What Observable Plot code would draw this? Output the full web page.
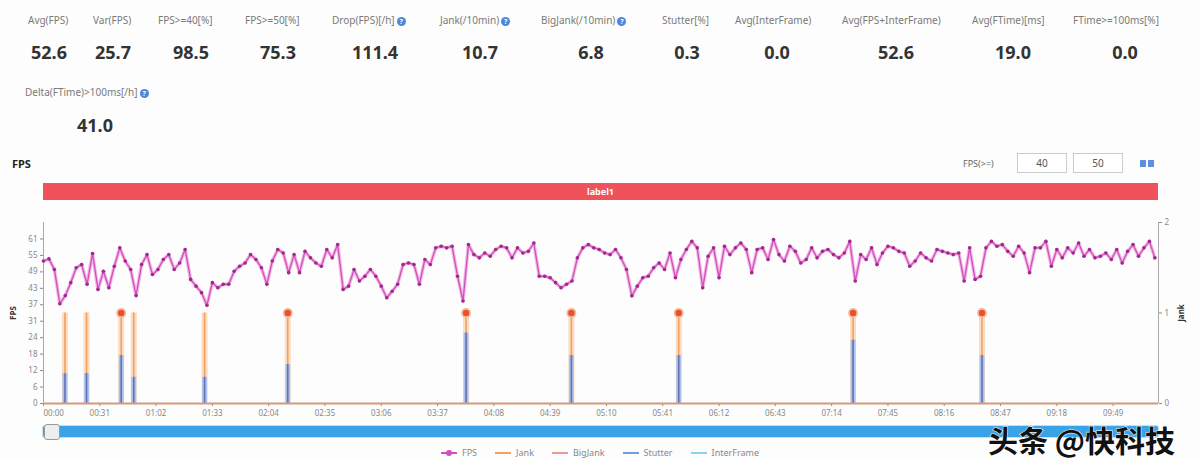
<!DOCTYPE html>
<html><head><meta charset="utf-8">
<script src="https://cdn.jsdelivr.net/npm/d3@7"></script>
<script src="https://cdn.jsdelivr.net/npm/@observablehq/plot@0.6"></script>
<style>
body{margin:0;background:#fff;font-family:"Noto Sans","Liberation Sans",Arial,sans-serif;}
#root{position:relative;width:1200px;height:460px;overflow:hidden;background:#fdfdfd;}
.abs{position:absolute;white-space:nowrap;}
.mlabel{font-size:10px;line-height:12px;color:#7a7a7a;}
.mval{font-size:18px;line-height:22px;font-weight:bold;color:#333;transform:translateX(-50%);}
.help{display:inline-block;width:9px;height:9px;border-radius:50%;background:#4f86d6;color:#fff;font-size:7px;line-height:9px;text-align:center;margin-left:2px;vertical-align:0px;font-weight:bold;}
.box{position:absolute;border:1px solid #ccc;background:#fff;font-size:10px;color:#555;text-align:center;line-height:18px;height:18px;}
#legend{position:absolute;top:446px;left:0;width:1200px;display:flex;justify-content:center;gap:18px;font-size:9px;color:#888;}
.li{display:flex;align-items:center;gap:5px;}
</style></head>
<body><div id="root"></div>
<script>
// ---------- data ----------
const metricLabels = ["Avg(FPS)","Var(FPS)","FPS>=40[%]","FPS>=50[%]","Drop(FPS)[/h]","Jank(/10min)","BigJank(/10min)","Stutter[%]","Avg(InterFrame)","Avg(FPS+InterFrame)","Avg(FTime)[ms]","FTime>=100ms[%]","Delta(FTime)>100ms[/h]"];
const metricValues = ["52.6","25.7","98.5","75.3","111.4","10.7","6.8","0.3","0.0","52.6","19.0","0.0","41.0"];
const metricHelp   = [false,false,false,false,true,true,true,false,false,false,false,false,true];

const fpsStepSeconds = 3;
const fps = [
 52.8,53.6,49.7,37,40,44.8,50.3,51.5,44.2,55.6,
 42.3,49,42.9,50.9,57.7,52.8,49.7,40,51.5,55.2,
 47.8,49.7,53.4,55.2,49.7,52.1,57.1,46,43.5,41.1,
 36.4,44.8,42.9,44.2,44.2,49,50.9,52.1,55.2,53.4,
 50.3,44.2,52.8,57.1,55.8,48.5,55.2,48.5,56.4,54,
 52.1,50.9,57.1,54,58.9,42.3,43.5,49.7,45.4,47.2,
 49.7,47.2,43.5,39.2,41.6,44.2,
 51.5,52.1,51.5,44.2,53.4,51.5,57.7,58.3,57.7,58.3,
 47.2,38,58.9,55.2,54,55.8,54.6,57.1,58.3,57.7,
 54,57.7,55.8,56.4,59.5,47.2,47.2,46.6,44.8,42.9,
 44.2,45.4,54,57.7,58.9,57.7,57.1,55.8,55.2,57.1,
 54,49.7,39.9,43.5,46.6,47.2,50.3,52.1,49.7,55.8,
 46.6,53.4,57.1,60.1,57.7,42.9,54.6,57.7,46.6,58.3,
 55.2,57.7,59.5,57.1,48.5,57.1,57.7,53.4,60.8,55.2,
 52.8,58.3,56.4,
 52.1,53.4,57.7,54,56.4,57.1,55.2,54,55.8,60.1,
 45.4,55.2,53.4,57.7,51.5,55.8,58.3,57.7,56.4,55.8,
 50.9,52.8,55.8,54,52.8,57.1,56.4,55.8,55.2,55.8,
 45.4,57.7,46,47.2,57.7,60.1,58.3,58.9,56.4,54.6,
 58.3,55.8,48.5,57.7,57.7,60.1,50.9,57.1,54,57.7,
 55.8,59.5,54.6,57.1,54,54.6,55.8,53.4,57.1,52.1,
 56.4,58.9,54.6,57.7,60.1,54
];
const jankTimes   = [11.8,23.7,42.8,49.7,88.7,134.5,232.7,290.7,349.8,445.8,516.8];
const jankValues  = [1,1,1,1,1,1,1,1,1,1,1];
const bigJank     = [false,false,true,false,false,true,true,true,true,true,true];
const stutterVals = [0.33,0.33,0.53,0.29,0.29,0.43,0.78,0.53,0.53,0.70,0.53];

const xTickLabels = ["00:00","00:31","01:02","01:33","02:04","02:35","03:06","03:37","04:08","04:39","05:10","05:41","06:12","06:43","07:14","07:45","08:16","08:47","09:18","09:49"];
const fpsTicks = [0,6.1,12.2,18.3,24.4,30.5,36.6,42.7,48.8,54.9,61];
const fpsMax = 67.1;
const jankTicks = [0,1,2];
const jankMax = 2;
const durationSeconds = 614;
const legendNames = ["FPS","Jank","BigJank","Stutter","InterFrame"];
const legendColors = ["#d24fbd","#f3a15f","#e4a08c","#6f9fd8","#86d3ea"];

// ---------- layout ----------
const root = document.getElementById("root");
function el(tag, cls, style, html){const e=document.createElement(tag); if(cls) e.className=cls; Object.assign(e.style,style||{}); if(html!==undefined) e.innerHTML=html; root.appendChild(e); return e;}

const labelLeft = [28,93,158,245,332,440,541,662,735,842,972,1073,25];
const valueCenter = [49,113,191,278,375,480,591,687,777,896,1013,1125,95];
metricLabels.forEach((lab,i)=>{
  const row2 = i===12;
  el("div","abs mlabel",{left:labelLeft[i]+"px",top:(row2?86:14)+"px"}, lab + (metricHelp[i]?'<span class="help">?</span>':''));
  el("div","abs mval",{left:valueCenter[i]+"px",top:(row2?114:41)+"px"}, metricValues[i]);
});

el("div","abs",{left:"12px",top:"156px",fontSize:"11px",fontWeight:"bold",color:"#222"},"FPS");
el("div","abs",{left:"963px",top:"157px",fontSize:"9px",color:"#666"},"FPS(>=)");
el("div","box",{left:"1017px",top:"153px",width:"48px"},"40");
el("div","box",{left:"1073px",top:"153px",width:"48px"},"50");
el("div","abs",{left:"1140px",top:"160px",width:"6px",height:"7px",background:"#5b8fe0"});
el("div","abs",{left:"1148px",top:"160px",width:"6px",height:"7px",background:"#5b8fe0"});

el("div","abs",{left:"43px",top:"183px",width:"1115px",height:"17px",background:"#ef525b",color:"#fff",fontSize:"9px",fontWeight:"bold",textAlign:"center",lineHeight:"17px"},"label1");

// slider
el("div","abs",{left:"43px",top:"426px",width:"1115px",height:"11px",background:"#3aa3e8",borderRadius:"2px",boxShadow:"0 0 0 1px #bfe0f5"});
el("div","abs",{left:"44px",top:"424px",width:"14px",height:"14px",background:"#eee",border:"1px solid #999",borderRadius:"3px"});

// ---------- chart ----------
const K = fpsMax / jankMax;
const fpsData = fps.map((v,i)=>({t:i*fpsStepSeconds, v}));
const janks = jankTimes.map((t,i)=>({t, j:jankValues[i]*K, big:bigJank[i], s:stutterVals[i]*K}));
const xTickSecs = xTickLabels.map(s=>{const [m,ss]=s.split(":").map(Number); return m*60+ss;});
const fmtX = d=>xTickLabels[xTickSecs.indexOf(d)];

const chart = Plot.plot({
  width:1200, height:210, marginLeft:43, marginRight:42, marginTop:12, marginBottom:17,
  x:{domain:[0,durationSeconds], axis:null},
  y:{domain:[0,fpsMax], axis:null},
  style:{fontFamily:"'Noto Sans','Liberation Sans',Arial,sans-serif", fontSize:"8px", color:"#888", background:"transparent", overflow:"visible"},
  marks:[
    Plot.ruleX([0],{stroke:"#aaa"}),
    Plot.ruleX([durationSeconds],{stroke:"#aaa"}),
    Plot.axisY({ticks:fpsTicks, tickFormat:d=>Math.round(d), tickSize:3, tickPadding:3, label:"FPS", labelAnchor:"center", labelArrow:"none", labelOffset:33}),
    Plot.axisY({anchor:"right", ticks:jankTicks.map(v=>v*K), tickFormat:d=>Math.round(d/K), tickSize:3, tickPadding:3, label:"Jank", labelAnchor:"center", labelArrow:"none", labelOffset:25}),
    Plot.axisX({ticks:xTickSecs.slice(1), tickFormat:fmtX, tickSize:3, tickPadding:4, label:null}),
    Plot.axisX({ticks:xTickSecs.slice(0,1), tickFormat:fmtX, tickSize:3, tickPadding:4, textAnchor:"start", label:null}),
    // jank glow + line
    Plot.ruleX(janks,{x:"t", y1:0, y2:"j", stroke:"#f8cfa8", strokeWidth:6, strokeOpacity:0.7}),
    Plot.ruleX(janks,{x:"t", y1:0, y2:"j", stroke:"#f3a15f", strokeWidth:1.6}),
    // stutter
    Plot.ruleX(janks,{x:"t", y1:0, y2:"s", stroke:"#a9c4ea", strokeWidth:5}),
    Plot.ruleX(janks,{x:"t", y1:0, y2:"s", stroke:"#6a6fb6", strokeWidth:1.6}),
    // big jank dots
    Plot.dot(janks.filter(d=>d.big),{x:"t", y:"j", r:5, fill:"#f6b9a0", stroke:"none"}),
    Plot.dot(janks.filter(d=>d.big),{x:"t", y:"j", r:3.2, fill:"#e5532d", stroke:"none"}),
    // fps
    Plot.line(fpsData,{x:"t", y:"v", stroke:"#f2b6e4", strokeWidth:3.5}),
    Plot.line(fpsData,{x:"t", y:"v", stroke:"#d24fbd", strokeWidth:1.3}),
    Plot.dot(fpsData,{x:"t", y:"v", r:1.8, fill:"#a02a8c", stroke:"none"}),
    Plot.ruleY([0],{stroke:"#d29a7e", strokeWidth:2})
  ]
});
const holder = el("div","abs",{left:"0px",top:"210px"});
holder.appendChild(chart);
d3.select(chart).selectAll("[aria-label='y-axis label'] text").attr("font-weight","bold").attr("fill","#333");

// legend
const lg = document.createElement("div"); lg.id="legend"; root.appendChild(lg);
legendNames.forEach((n,i)=>{
  const it=document.createElement("div"); it.className="li";
  it.innerHTML = `<svg width="16" height="8"><line x1="0" y1="4" x2="16" y2="4" stroke="${legendColors[i]}" stroke-width="2"/>${i===0?`<circle cx="8" cy="4" r="3" fill="${legendColors[i]}"/>`:''}</svg><span>${n}</span>`;
  lg.appendChild(it);
});

// watermark
el("div","abs",{left:"988px",top:"417px",fontFamily:"'Noto Sans CJK SC',sans-serif",fontSize:"30px",fontWeight:"bold",color:"#111",webkitTextStroke:"1px #fff",paintOrder:"stroke fill",letterSpacing:"0px"},"头条 @快科技");
</script></body></html>
